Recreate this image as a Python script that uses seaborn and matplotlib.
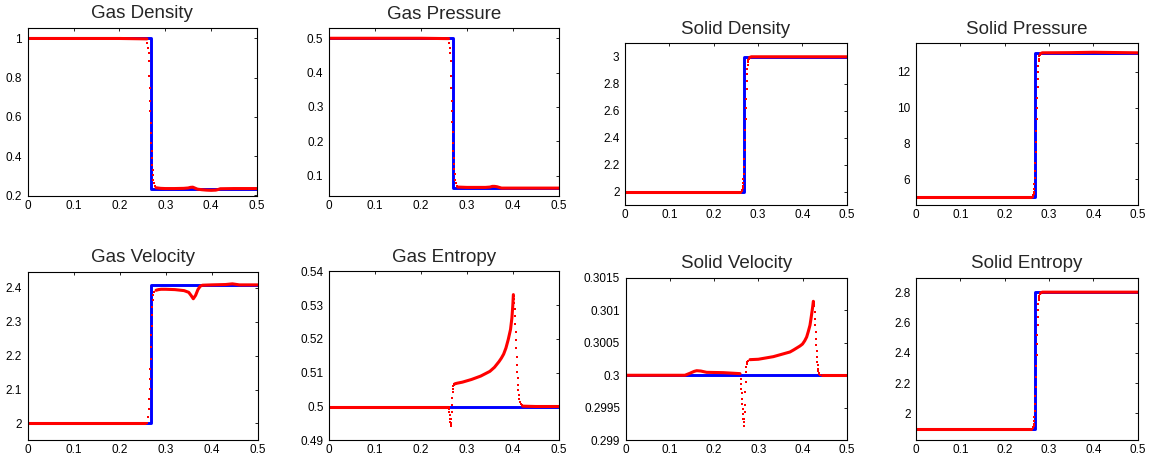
import numpy as np
import pandas as pd
import matplotlib
matplotlib.use("Agg")
import matplotlib.pyplot as plt
import seaborn as sns

# ---------------- data ----------------
x_ticks = [0, 0.1, 0.2, 0.3, 0.4, 0.5]

# Gas Density
gd_exact_x = [0, 0.269, 0.269, 0.5]
gd_exact_y = [1.0, 1.0, 0.231, 0.231]
gd_x = [0, 0.1, 0.2, 0.26, 0.2609, 0.2630, 0.2638, 0.2645, 0.2652, 0.2660, 0.2667, 0.2674, 0.2681,
        0.2689, 0.2696, 0.2703, 0.2710, 0.2718, 0.2725, 0.2732, 0.2739, 0.2754, 0.2776, 0.2800,
        0.29, 0.30, 0.32, 0.34, 0.35, 0.355, 0.36, 0.365, 0.37, 0.38, 0.39, 0.40, 0.41, 0.415,
        0.42, 0.45, 0.5]
gd_y = [1.0, 1.0, 1.0, 0.998, 0.977, 0.951, 0.926, 0.884, 0.807, 0.747, 0.679, 0.628, 0.569,
        0.518, 0.467, 0.424, 0.390, 0.356, 0.331, 0.305, 0.279, 0.263, 0.246, 0.238,
        0.235, 0.234, 0.234, 0.235, 0.237, 0.240, 0.241, 0.236, 0.231, 0.228, 0.226, 0.225, 0.226, 0.229,
        0.233, 0.234, 0.234]

# Gas Pressure
gp_exact_x = [0, 0.269, 0.269, 0.5]
gp_exact_y = [0.5, 0.5, 0.063, 0.063]
gp_x = [0, 0.1, 0.2, 0.26, 0.2609, 0.2630, 0.2638, 0.2645, 0.2652, 0.2660, 0.2667, 0.2674, 0.2681,
        0.2689, 0.2696, 0.2703, 0.2710, 0.2718, 0.2725, 0.2732, 0.2739, 0.2754, 0.2776, 0.2800,
        0.30, 0.34, 0.35, 0.355, 0.36, 0.365, 0.37, 0.375, 0.40, 0.45, 0.5]
gp_y = [0.5, 0.5, 0.5, 0.499, 0.487, 0.472, 0.458, 0.434, 0.390, 0.356, 0.317, 0.288, 0.255,
        0.226, 0.196, 0.172, 0.153, 0.133, 0.119, 0.104, 0.089, 0.080, 0.071, 0.067,
        0.066, 0.066, 0.067, 0.069, 0.069, 0.068, 0.066, 0.064, 0.064, 0.064, 0.064]

# Solid Density
sd_exact_x = [0, 0.269, 0.269, 0.5]
sd_exact_y = [2.0, 2.0, 3.0, 3.0]
sd_x = [0, 0.1, 0.2, 0.26, 0.2630, 0.2640, 0.2650, 0.2657, 0.2664, 0.2671, 0.2678, 0.2685, 0.2692,
        0.2699, 0.2706, 0.2713, 0.2720, 0.2727, 0.2734, 0.2741, 0.2748, 0.2755, 0.2762, 0.2769,
        0.2776, 0.2783, 0.2790, 0.2810, 0.2850, 0.35, 0.4, 0.5]
sd_y = [2.0, 2.0, 2.0, 2.0, 2.005, 2.012, 2.025, 2.04, 2.06, 2.09, 2.13, 2.18, 2.24,
        2.31, 2.38, 2.46, 2.54, 2.62, 2.69, 2.76, 2.82, 2.87, 2.91, 2.94,
        2.96, 2.975, 2.985, 2.995, 3.0, 3.0, 3.0, 3.0]

# Solid Pressure
sp_exact_x = [0, 0.269, 0.269, 0.5]
sp_exact_y = [5.0, 5.0, 13.05, 13.05]
sp_x = sd_x
sp_y = [5.0, 5.0, 5.0, 5.0, 5.04, 5.10, 5.20, 5.32, 5.48, 5.72, 6.05, 6.45, 6.93,
        7.50, 8.06, 8.70, 9.35, 9.99, 10.55, 11.12, 11.60, 12.00, 12.33, 12.57,
        12.73, 12.85, 12.93, 13.01, 13.05, 13.06, 13.08, 13.05]

# Gas Velocity
gv_exact_x = [0, 0.269, 0.269, 0.5]
gv_exact_y = [2.0, 2.0, 2.408, 2.408]
gv_x = [0, 0.1, 0.2, 0.255, 0.2587, 0.2616, 0.2630, 0.2645, 0.2652, 0.2659, 0.2667, 0.2674, 0.2681,
        0.2688, 0.2696, 0.2703, 0.2710, 0.2717, 0.2732, 0.2754, 0.2790, 0.2841, 0.29, 0.30, 0.32,
        0.34, 0.35, 0.355, 0.36, 0.365, 0.37, 0.375, 0.38, 0.40, 0.43, 0.445, 0.46, 0.5]
gv_y = [2.0, 2.0, 2.0, 2.0, 2.002, 2.018, 2.042, 2.072, 2.102, 2.131, 2.161, 2.19, 2.225,
        2.26, 2.289, 2.319, 2.344, 2.363, 2.378, 2.388, 2.393, 2.395, 2.396, 2.396, 2.395,
        2.392, 2.387, 2.378, 2.368, 2.378, 2.395, 2.405, 2.408, 2.409, 2.410, 2.412, 2.409, 2.409]

# Gas Entropy
ge_exact_x = [0, 0.5]
ge_exact_y = [0.5, 0.5]
ge_x = [0, 0.1, 0.2, 0.259, 0.2600, 0.2607, 0.2614, 0.2621, 0.2628, 0.2635, 0.2642, 0.2649, 0.2656,
        0.2663, 0.2670, 0.2677, 0.2684, 0.2691, 0.2698, 0.2705, 0.2712, 0.2720, 0.2735, 0.2760,
        0.2790, 0.29, 0.30, 0.31, 0.32, 0.33, 0.34, 0.35, 0.36, 0.37, 0.375, 0.38, 0.385, 0.39,
        0.395, 0.398, 0.400, 0.4012, 0.4020, 0.4027, 0.4034, 0.4041, 0.4048, 0.4055, 0.4063,
        0.4070, 0.4077, 0.4084, 0.4092, 0.4099, 0.4106, 0.4113, 0.4121, 0.4130, 0.4143, 0.4157,
        0.4172, 0.4190, 0.4215, 0.45, 0.5]
ge_y = [0.5, 0.5, 0.5, 0.5, 0.4998, 0.4992, 0.4985, 0.4975, 0.4964, 0.4953, 0.4945, 0.4943, 0.4950,
        0.4964, 0.4985, 0.5005, 0.5025, 0.5042, 0.5053, 0.5060, 0.5064, 0.5066, 0.5067, 0.5068,
        0.5069, 0.5072, 0.5076, 0.5080, 0.5085, 0.5090, 0.5097, 0.5104, 0.5116, 0.5133, 0.5143,
        0.5155, 0.5173, 0.5198, 0.5228, 0.5262, 0.5300, 0.5331, 0.5328, 0.5318, 0.5305, 0.5288,
        0.5268, 0.5245, 0.5221, 0.5196, 0.5172, 0.5147, 0.5122, 0.5101, 0.5083, 0.5065, 0.5048,
        0.5035, 0.5023, 0.5014, 0.5008, 0.5004, 0.5001, 0.5, 0.5]

# Solid Velocity
sv_exact_x = [0, 0.5]
sv_exact_y = [0.3, 0.3]
sv_x = [0, 0.1, 0.134, 0.145, 0.155, 0.1606, 0.17, 0.1832, 0.2209, 0.2586, 0.2601, 0.2608, 0.2616,
        0.2623, 0.2631, 0.2638, 0.2646, 0.2653, 0.2661, 0.2669, 0.2676, 0.2684, 0.2691, 0.2699,
        0.2706, 0.2714, 0.2721, 0.2729, 0.2736, 0.2747, 0.2759, 0.2812, 0.30, 0.334, 0.3717, 0.38,
        0.3943, 0.40, 0.405, 0.4094, 0.413, 0.4169, 0.419, 0.4214, 0.423, 0.4245, 0.4253, 0.4260,
        0.4268, 0.4275, 0.4283, 0.4290, 0.4298, 0.4305, 0.4313, 0.4320, 0.4328, 0.4335, 0.4343,
        0.4351, 0.4359, 0.4370, 0.4381, 0.4400, 0.4434, 0.47, 0.5]
sv_y = [0.3, 0.3, 0.3, 0.30003, 0.30006, 0.30007, 0.300065, 0.300045, 0.30004, 0.300025, 0.299947,
        0.29987, 0.299793, 0.29972, 0.29964, 0.29956, 0.299486, 0.29941, 0.299332, 0.29922, 0.29928,
        0.299332, 0.29943, 0.299537, 0.299743, 0.299897, 0.30005, 0.30012, 0.300178, 0.30021,
        0.300224, 0.30024, 0.300246, 0.300286, 0.300358, 0.30039, 0.30045, 0.30048, 0.30053,
        0.300588, 0.30067, 0.300768, 0.30086, 0.300973, 0.30105, 0.301137, 0.30113, 0.30110,
        0.30106, 0.30098, 0.30087, 0.30077, 0.300665, 0.30056, 0.30046, 0.30037, 0.30028, 0.30021,
        0.300153, 0.30010, 0.30006, 0.30003, 0.300019, 0.30001, 0.3, 0.3, 0.3]

# Solid Entropy
se_exact_x = [0, 0.269, 0.269, 0.5]
se_exact_y = [1.895, 1.895, 2.804, 2.804]
se_x = sd_x
se_y = [1.895, 1.895, 1.895, 1.895, 1.900, 1.906, 1.918, 1.931, 1.950, 1.977, 2.013, 2.059, 2.113,
        2.177, 2.240, 2.313, 2.386, 2.459, 2.522, 2.586, 2.640, 2.686, 2.722, 2.749,
        2.768, 2.781, 2.790, 2.799, 2.804, 2.804, 2.804, 2.804]

titles = ["Gas Density", "Gas Pressure", "Solid Density", "Solid Pressure",
          "Gas Velocity", "Gas Entropy", "Solid Velocity", "Solid Entropy"]

# ---------------- style ----------------
sns.set_style("white")
plt.rcParams["font.family"] = ["Liberation Sans", "DejaVu Sans"]

W, H = 1157, 463
fig = plt.figure(figsize=(W / 100, H / 100), dpi=100)

# axes boxes in pixels: left, right, top, bottom
boxes = [
    (27.7, 257.0, 27.7, 196.0),
    (329.0, 559.0, 28.3, 196.0),
    (625.0, 846.7, 43.3, 205.0),
    (916.0, 1137.7, 43.3, 205.0),
    (27.7, 257.7, 272.0, 440.3),
    (329.3, 558.7, 271.3, 440.3),
    (625.7, 846.7, 277.7, 440.3),
    (916.0, 1137.7, 277.7, 440.3),
]

panels = [
    (gd_exact_x, gd_exact_y, gd_x, gd_y, [(0.2605, 0.2780)], (0.196, 1.055),
     [0.2, 0.4, 0.6, 0.8, 1.0]),
    (gp_exact_x, gp_exact_y, gp_x, gp_y, [(0.2605, 0.2780)], (0.041, 0.529),
     [0.1, 0.2, 0.3, 0.4, 0.5]),
    (sd_exact_x, sd_exact_y, sd_x, sd_y, [(0.2625, 0.2795)], (1.9, 3.1),
     [2.0, 2.2, 2.4, 2.6, 2.8, 3.0]),
    (sp_exact_x, sp_exact_y, sp_x, sp_y, [(0.2625, 0.2795)], (4.57, 13.58),
     [6, 8, 10, 12]),
    (gv_exact_x, gv_exact_y, gv_x, gv_y, [(0.2585, 0.2760)], (1.95, 2.447),
     [2.0, 2.1, 2.2, 2.3, 2.4]),
    (ge_exact_x, ge_exact_y, ge_x, ge_y, [(0.2598, 0.2725), (0.4018, 0.4200)], (0.49, 0.54),
     [0.49, 0.5, 0.51, 0.52, 0.53, 0.54]),
    (sv_exact_x, sv_exact_y, sv_x, sv_y, [(0.2595, 0.2760), (0.4250, 0.4420)], (0.299, 0.3015),
     [0.299, 0.2995, 0.3, 0.3005, 0.301, 0.3015]),
    (se_exact_x, se_exact_y, se_x, se_y, [(0.2625, 0.2795)], (1.82, 2.9),
     [2.0, 2.2, 2.4, 2.6, 2.8]),
]


def in_spans(x, spans):
    return any(a <= x <= b for a, b in spans)


for (l, r, t, b), title, (ex_x, ex_y, nx, ny, spans, ylim, yt) in zip(boxes, titles, panels):
    ax = fig.add_axes([l / W, 1 - b / H, (r - l) / W, (b - t) / H])
    # exact solution
    sns.lineplot(x=ex_x, y=ex_y, sort=False, estimator=None, color=(0, 0, 1),
                 linewidth=2.1, ax=ax)
    # numerical solution: continuous line where smooth, dots in steep zones
    rows, dots = [], []
    seg = 0
    for xv, yv in zip(nx, ny):
        if in_spans(xv, spans):
            dots.append((xv, yv))
            seg += 1
        else:
            rows.append((xv, yv, seg))
    df_line = pd.DataFrame(rows, columns=["x", "y", "seg"])
    sns.lineplot(data=df_line, x="x", y="y", units="seg", estimator=None, sort=False,
                 color=(1, 0, 0), linewidth=2.2, ax=ax, legend=False)
    if dots:
        df_dot = pd.DataFrame(dots, columns=["x", "y"])
        sns.scatterplot(data=df_dot, x="x", y="y", marker="s", s=2.5, color=(1, 0, 0),
                        linewidth=0, ax=ax, legend=False, zorder=3)
    ax.set_xlim(0, 0.5)
    ax.set_ylim(*ylim)
    ax.set_xticks(x_ticks)
    ax.set_xticklabels(["%g" % v for v in x_ticks])
    ax.set_yticks(yt)
    ax.set_yticklabels(["%g" % v for v in yt])
    ax.set_xlabel("")
    ax.set_ylabel("")
    ax.tick_params(direction="in", length=2.5, width=0.6, top=True, right=True,
                   labelsize=8.5, colors="black", pad=4)
    ax.tick_params(axis="x", pad=3)
    for s in ax.spines.values():
        s.set_color("black")
        s.set_linewidth(0.8)
    ax.set_title(title, fontsize=13.5, pad=7)

fig.savefig("out.png", dpi=100)
